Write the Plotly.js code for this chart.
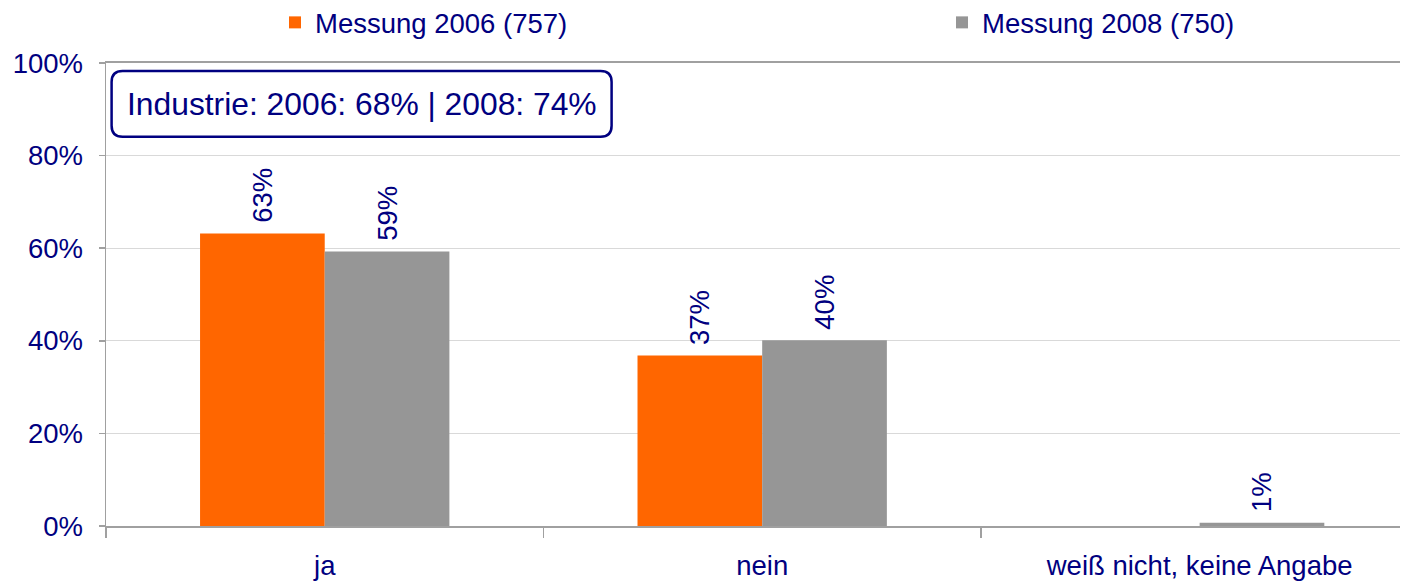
<!DOCTYPE html>
<html>
<head>
<meta charset="utf-8">
<script src="https://cdn.plot.ly/plotly-3.0.1.min.js"></script>
<style>html,body{margin:0;padding:0;background:#fff;}#chart{width:1402px;height:582px;}</style>
</head>
<body>
<div id="chart"></div>
<script>
// ---- data ----
const categories = ["ja", "nein", "weiß nicht, keine Angabe"];
const seriesNames = ["Messung 2006 (757)", "Messung 2008 (750)"];
const values2006 = [63.2, 36.8, 0];
const values2008 = [59.3, 40.1, 0.7];
const labels2006 = ["63%", "37%", ""];
const labels2008 = ["59%", "40%", "1%"];
const yTickVals = [0, 20, 40, 60, 80, 100];
const yTickText = ["0%", "20%", "40%", "60%", "80%", "100%"];
const boxText = "Industrie: 2006: 68% | 2008: 74%";

// ---- style ----
const NAVY = "#000080";
const FONT = "Liberation Sans, Arial, sans-serif";
const W = 1402, H = 582;
const M = {l: 106, r: 2, t: 63, b: 56};
const PW = W - M.l - M.r, PH = H - M.t - M.b;

function pxX(px) { return (px - M.l) / PW; }
function pxY(py) { return (H - M.b - py) / PH; }
function roundRect(x0, y0, x1, y1, r) {
  const rx = r / PW, ry = r / PH;
  const a = pxX(x0), b = pxX(x1), top = pxY(y0), bot = pxY(y1);
  return `M${a + rx},${top} L${b - rx},${top} Q${b},${top} ${b},${top - ry} ` +
         `L${b},${bot + ry} Q${b},${bot} ${b - rx},${bot} ` +
         `L${a + rx},${bot} Q${a},${bot} ${a},${bot + ry} ` +
         `L${a},${top - ry} Q${a},${top} ${a + rx},${top} Z`;
}

const common = {
  type: "bar",
  textposition: "outside",
  textangle: -90,
  constraintext: "none",
  cliponaxis: false,
  texttemplate: "\u00a0%{text}",
  textfont: {family: FONT, size: 27.5, color: NAVY},
  hoverinfo: "none"
};

const traces = [
  Object.assign({}, common, {x: categories, y: values2006, text: labels2006, name: seriesNames[0],
    marker: {color: "#FF6600"}, legend: "legend"}),
  Object.assign({}, common, {x: categories, y: values2008, text: labels2008, name: seriesNames[1],
    marker: {color: "#969696"}, legend: "legend2"})
];

const legendBase = {
  orientation: "h",
  xref: "container", yref: "container",
  y: 1 - 22.5 / H,
  xanchor: "left", yanchor: "middle",
  font: {family: FONT, size: 27.5, color: NAVY},
  bgcolor: "rgba(0,0,0,0)"
};

const layout = {
  width: W, height: H,
  margin: M,
  paper_bgcolor: "#fff", plot_bgcolor: "#fff",
  barmode: "group",
  bargap: 0.43,
  bargroupgap: 0,
  font: {family: FONT, size: 27.5, color: NAVY},
  showlegend: true,
  legend: Object.assign({}, legendBase, {x: 275 / W}),
  legend2: Object.assign({}, legendBase, {x: 942 / W}),
  xaxis: {
    type: "category",
    range: [-0.5, 2.458],
    tickson: "boundaries",
    ticks: "outside", ticklen: 10, tickcolor: "#a0a0a0", tickwidth: 1.5,
    showline: true, linecolor: "#a0a0a0", linewidth: 2, mirror: true,
    showgrid: false,
    ticklabelstandoff: 14,
    tickfont: {family: FONT, size: 27.5, color: NAVY},
    fixedrange: true
  },
  yaxis: {
    range: [0, 100],
    tickvals: yTickVals, ticktext: yTickText,
    ticks: "outside", ticklen: 6, tickcolor: "#a0a0a0", tickwidth: 1.5,
    showline: true, linecolor: "#a0a0a0", linewidth: 1.5,
    showgrid: true, gridcolor: "#d9d9d9", gridwidth: 1,
    zeroline: false,
    ticklabelstandoff: 10,
    tickfont: {family: FONT, size: 27.5, color: NAVY},
    fixedrange: true
  },
  shapes: [{
    type: "path", xref: "paper", yref: "paper",
    path: roundRect(111.6, 71, 611.6, 136.7, 11),
    line: {color: NAVY, width: 2.5},
    fillcolor: "#fff",
    layer: "above"
  }],
  annotations: [{
    xref: "paper", yref: "paper",
    x: pxX((111.6 + 611.6) / 2), y: pxY(104),
    xanchor: "center", yanchor: "middle",
    text: boxText, showarrow: false,
    font: {family: FONT, size: 31.8, color: NAVY}
  }]
};

Plotly.newPlot("chart", traces, layout, {displayModeBar: false, staticPlot: true});
</script>
</body>
</html>
